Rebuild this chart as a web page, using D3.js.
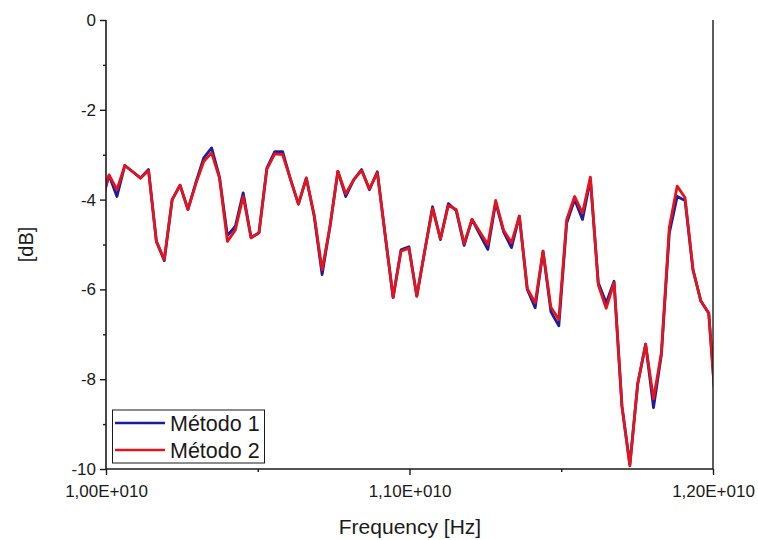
<!DOCTYPE html>
<html>
<head>
<meta charset="utf-8">
<script src="https://cdn.jsdelivr.net/npm/d3@7"></script>
<style>
  html, body { margin: 0; padding: 0; background: #fff; }
  svg { display: block; font-family: "Liberation Sans", Arial, sans-serif; }
</style>
</head>
<body>
<svg id="chart" width="758" height="540"></svg>
<script>
// Frequency in GHz (points outside the axis range are clipped, as in the original)
const freqGHz = [9.984, 10.010, 10.036, 10.062, 10.088, 10.114, 10.140, 10.166, 10.192, 10.218,
  10.244, 10.270, 10.296, 10.322, 10.348, 10.374, 10.400, 10.426, 10.452, 10.478,
  10.504, 10.530, 10.556, 10.582, 10.608, 10.634, 10.660, 10.686, 10.712, 10.738,
  10.764, 10.790, 10.816, 10.842, 10.868, 10.894, 10.920, 10.946, 10.972, 10.998,
  11.024, 11.050, 11.076, 11.102, 11.128, 11.154, 11.180, 11.206, 11.232, 11.258,
  11.284, 11.310, 11.336, 11.362, 11.388, 11.414, 11.440, 11.466, 11.492, 11.518,
  11.544, 11.570, 11.596, 11.622, 11.648, 11.674, 11.700, 11.726, 11.752, 11.778,
  11.804, 11.830, 11.856, 11.882, 11.908, 11.934, 11.960, 11.986, 12.012];

const metodo1 = [-4.10, -3.46, -3.93, -3.24, -3.38, -3.52, -3.33, -4.93, -5.36, -4.00,
  -3.68, -4.22, -3.62, -3.07, -2.85, -3.50, -4.80, -4.60, -3.85, -4.85,
  -4.74, -3.30, -2.93, -2.93, -3.55, -4.10, -3.52, -4.37, -5.67, -4.60,
  -3.37, -3.93, -3.56, -3.33, -3.78, -3.38, -4.80, -6.18, -5.12, -5.05,
  -6.15, -5.15, -4.16, -4.89, -4.09, -4.25, -5.02, -4.44, -4.78, -5.11,
  -4.07, -4.72, -5.07, -4.37, -6.00, -6.41, -5.15, -6.50, -6.81, -4.52,
  -4.00, -4.44, -3.55, -5.85, -6.30, -5.82, -8.60, -9.90, -8.10, -7.22,
  -8.63, -7.45, -4.75, -3.93, -4.02, -5.56, -6.26, -6.53, -8.90];

const metodo2 = [-4.05, -3.45, -3.78, -3.24, -3.38, -3.52, -3.35, -4.93, -5.33, -4.00,
  -3.68, -4.22, -3.65, -3.15, -2.96, -3.52, -4.93, -4.68, -3.93, -4.85,
  -4.74, -3.32, -2.98, -3.00, -3.55, -4.10, -3.52, -4.35, -5.56, -4.60,
  -3.37, -3.87, -3.56, -3.35, -3.76, -3.40, -4.80, -6.18, -5.15, -5.08,
  -6.15, -5.15, -4.20, -4.87, -4.13, -4.22, -4.98, -4.44, -4.72, -5.00,
  -4.02, -4.68, -4.96, -4.37, -5.98, -6.30, -5.15, -6.40, -6.67, -4.44,
  -3.93, -4.30, -3.50, -5.90, -6.42, -5.85, -8.60, -9.93, -8.10, -7.22,
  -8.44, -7.41, -4.62, -3.70, -3.96, -5.56, -6.26, -6.53, -8.90];

const seriesNames = ["Método 1", "Método 2"];
const seriesColors = ["#1c1c9c", "#e3141c"];
const xMajorTicks = [1.0e10, 1.1e10, 1.2e10];
const xMajorLabels = ["1,00E+010", "1,10E+010", "1,20E+010"];
const xMinorTicks = [1.05e10, 1.15e10];
const yMajorTicks = [0, -2, -4, -6, -8, -10];
const yMinorTicks = [-1, -3, -5, -7, -9];
const xTitle = "Frequency [Hz]";
const yTitle = "[dB]";

const svg = d3.select("#chart");
const L = 106, R = 713, T = 20, B = 469;
const x = d3.scaleLinear().domain([1.0e10, 1.2e10]).range([L, R]);
const y = d3.scaleLinear().domain([-10, 0]).range([B, T]);
const ink = "#1a1a1a";

svg.append("defs").append("clipPath").attr("id", "clip")
  .append("rect").attr("x", L).attr("y", T - 5).attr("width", R - L).attr("height", B - T + 10);

const seriesData = [metodo1, metodo2].map(vals => vals.map((v, i) => ({ f: freqGHz[i] * 1e9, v })));
const line = d3.line().x(d => x(d.f)).y(d => y(d.v));

const g = svg.append("g").attr("clip-path", "url(#clip)");
seriesData.forEach((d, i) => {
  g.append("path").datum(d)
    .attr("d", line)
    .attr("fill", "none")
    .attr("stroke", seriesColors[i])
    .attr("stroke-width", 2.8)
    .attr("stroke-linejoin", "round");
});

// Y axis
const yAxis = d3.axisLeft(y).tickValues(yMajorTicks).tickFormat(d => d === 0 ? "0" : String(d)).tickSize(6).tickPadding(4);
const ya = svg.append("g").attr("transform", `translate(${L},0)`).call(yAxis);
const yMin = d3.axisLeft(y).tickValues(yMinorTicks).tickFormat("").tickSize(3);
const ym = svg.append("g").attr("transform", `translate(${L},0)`).call(yMin);
ym.select(".domain").remove();

// X axis
const xAxis = d3.axisBottom(x).tickValues(xMajorTicks).tickFormat((d, i) => xMajorLabels[i]).tickSize(6).tickPadding(10);
const xa = svg.append("g").attr("transform", `translate(0,${B})`).call(xAxis);
const xMin = d3.axisBottom(x).tickValues(xMinorTicks).tickFormat("").tickSize(3);
const xm = svg.append("g").attr("transform", `translate(0,${B})`).call(xMin);
xm.select(".domain").remove();

[ya, ym, xa, xm].forEach(a => {
  a.selectAll(".domain").attr("stroke", ink).attr("stroke-width", 1.6);
  a.selectAll(".tick line").attr("stroke", ink).attr("stroke-width", 1.4);
  a.selectAll(".tick text").attr("fill", ink).style("font-size", "17px");
});
ya.select(".domain").attr("d", `M0,${T}V${B}`);
xa.select(".domain").attr("d", `M${L},0H${R}`);

// right frame line
svg.append("line").attr("x1", R).attr("x2", R).attr("y1", T).attr("y2", B)
  .attr("stroke", ink).attr("stroke-width", 1.4);

// Axis titles
svg.append("text").attr("x", 410).attr("y", 534).attr("text-anchor", "middle")
  .attr("fill", ink).style("font-size", "21px").text(xTitle);
svg.append("text").attr("transform", `translate(33,${(T + B) / 2}) rotate(-90)`).attr("text-anchor", "middle")
  .attr("fill", ink).style("font-size", "20px").text(yTitle);

// Legend
const lg = svg.append("g");
lg.append("rect").attr("x", 112.5).attr("y", 410).attr("width", 152).attr("height", 53)
  .attr("fill", "#fff").attr("stroke", ink).attr("stroke-width", 1);
seriesNames.forEach((n, i) => {
  const yy = 423 + i * 27;
  lg.append("line").attr("x1", 115).attr("x2", 165).attr("y1", yy).attr("y2", yy)
    .attr("stroke", seriesColors[i]).attr("stroke-width", 2.6);
  lg.append("text").attr("x", 170).attr("y", yy + 8).attr("fill", ink)
    .style("font-size", "21.5px").text(n);
});
</script>
</body>
</html>
